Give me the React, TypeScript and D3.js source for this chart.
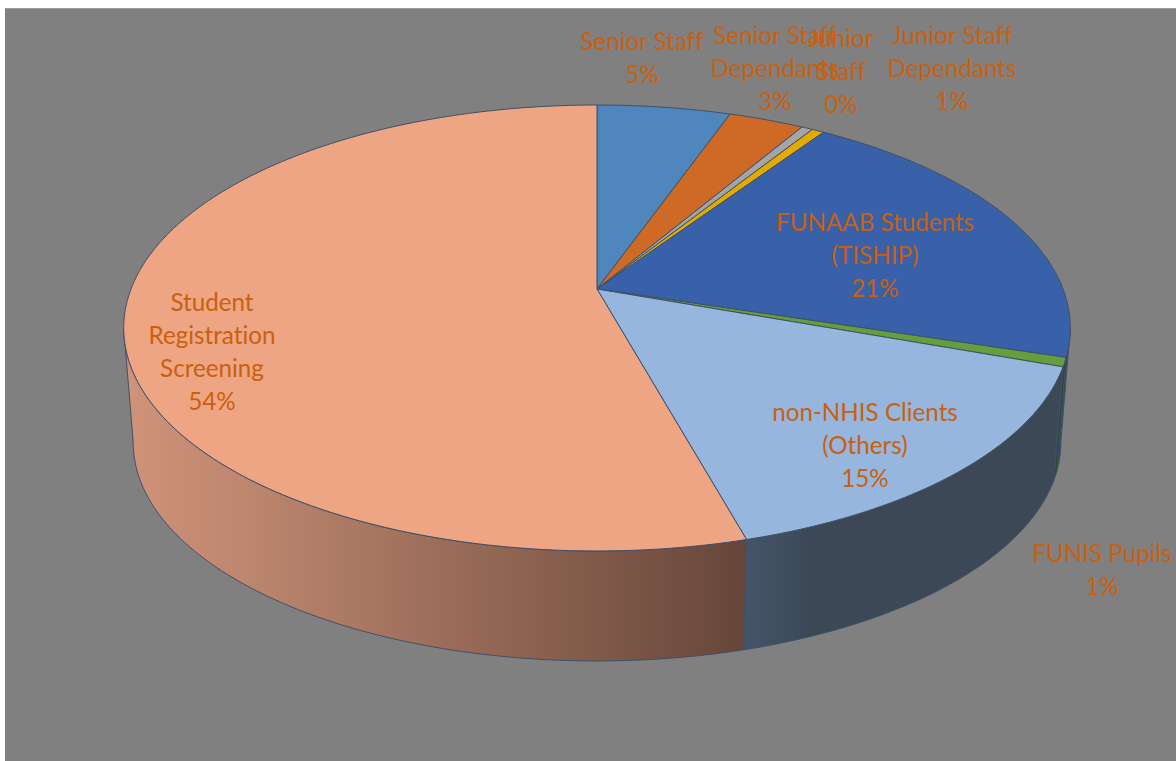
import React from "react";
import * as d3 from "d3";

const categories = [
  "Senior Staff",
  "Senior Staff Dependants",
  "Junior Staff",
  "Junior Staff Dependants",
  "FUNAAB Students (TISHIP)",
  "FUNIS Pupils",
  "non-NHIS Clients (Others)",
  "Student Registration Screening",
];
const shares = [5.4, 3.05, 0.45, 0.5, 20.45, 0.65, 15.2, 54.3];
const percentLabels = ["5%", "3%", "0%", "1%", "21%", "1%", "15%", "54%"];
const labelLines = [
  ["Senior Staff"],
  ["Senior Staff", "Dependants"],
  ["Junior", "Staff"],
  ["Junior Staff", "Dependants"],
  ["FUNAAB Students", "(TISHIP)"],
  ["FUNIS Pupils"],
  ["non-NHIS Clients", "(Others)"],
  ["Student", "Registration", "Screening"],
];
const topColors = ["#4f86bb", "#cf6a26", "#a5a5a5", "#e3ab00", "#3861a9", "#659e3d", "#96b6dd", "#eda583"];
const sideStart = ["#2f4d6c", "#70391a", "#555555", "#705500", "#2b4468", "#2c4a20", "#445568", "#cf9379"];
const sideMid = ["#2f4d6c", "#70391a", "#555555", "#705500", "#2b4468", "#2c4a20", "#3c4856", "#bd866e"];
const sideEnd = ["#2f4d6c", "#70391a", "#555555", "#705500", "#2b4468", "#2c4a20", "#3c4856", "#66463a"];
const labelAnchors: [number, number][] = [
  [642, 43.5], [775, 37.5], [841, 40.5], [952, 37.5], [875, 224.5], [1102, 555.5], [865, 414.5], [212, 304.5],
];

const WIDTH = 1176;
const HEIGHT = 761;
const CX = 597;
const CY = 289;
const K = -0.1749;
const A = 165.6;
const B = 466;
const VANISH_Y = 6051;
const SHRINK = 0.98;
const SIDE_FROM = (100 * Math.PI) / 180;
const SIDE_TO = (260 * Math.PI) / 180;
const LINE_GAP = 33;

type P = [number, number];

const project = (theta: number): P => {
  const u = Math.sin(theta);
  const v = -Math.cos(theta);
  const w = 1 + K * v;
  return [CX + (B * u) / w, (CY + A * v) / w];
};
const drop = ([x, y]: P): P => [CX + SHRINK * (x - CX), VANISH_Y - SHRINK * (VANISH_Y - y)];

const arcPoints = (a0: number, a1: number): P[] => {
  const n = Math.max(2, Math.ceil(((a1 - a0) * 180) / Math.PI));
  return d3.range(n + 1).map((i) => project(a0 + ((a1 - a0) * i) / n));
};

const lineGen = d3.line<P>().x((d) => d[0]).y((d) => d[1]);

const pieGen = d3.pie<number>().sort(null).startAngle(0).endAngle(2 * Math.PI);

export default function App() {
  const slices = pieGen(shares);
  const stroke = "#3f5068";
  return (
    <svg
      width={WIDTH}
      height={HEIGHT}
      viewBox={`0 0 ${WIDTH} ${HEIGHT}`}
      style={{ position: "fixed", left: 0, top: 0, background: "#ffffff", fontVariantLigatures: "none" }}
      fontFamily="Lato, 'Open Sans', sans-serif"
    >
      <defs>
        {slices.map((s, i) => {
          const a0 = Math.max(s.startAngle, SIDE_FROM);
          const a1 = Math.min(s.endAngle, SIDE_TO);
          if (a1 <= a0) return null;
          return (
            <linearGradient
              key={i}
              id={`side-${i}`}
              gradientUnits="userSpaceOnUse"
              x1={project(a1)[0]}
              y1={0}
              x2={project(a0)[0]}
              y2={0}
            >
              <stop offset="0" stopColor={sideStart[i]} />
              <stop offset="0.2" stopColor={sideMid[i]} />
              <stop offset="1" stopColor={sideEnd[i]} />
            </linearGradient>
          );
        })}
      </defs>
      <rect x={5} y={8} width={WIDTH - 5} height={HEIGHT - 8} fill="#808080" />
      <rect x={5} y={8} width={WIDTH - 5} height={1} fill="#9a9a9a" />
      <g>
        {slices.map((s, i) => {
          const a0 = Math.max(s.startAngle, SIDE_FROM);
          const a1 = Math.min(s.endAngle, SIDE_TO);
          if (a1 <= a0) return null;
          const rim = arcPoints(a0, a1);
          const lower = rim.map(drop).reverse();
          return (
            <path
              key={i}
              d={lineGen([...rim, ...lower])! + "Z"}
              fill={`url(#side-${i})`}
              stroke={stroke}
              strokeWidth={1}
              strokeLinejoin="round"
            />
          );
        })}
      </g>
      <g>
        {slices.map((s, i) => (
          <path
            key={categories[i]}
            d={lineGen([[CX, CY], ...arcPoints(s.startAngle, s.endAngle)])! + "Z"}
            fill={topColors[i]}
            stroke={stroke}
            strokeWidth={1}
            strokeLinejoin="round"
          />
        ))}
      </g>
      <g fontSize={24.2} fill="#c9600f" textAnchor="middle" dominantBaseline="middle">
        {labelLines.map((lines, i) => (
          <text key={categories[i]}>
            {[...lines, percentLabels[i]].map((t, j) => (
              <tspan key={j} x={labelAnchors[i][0]} y={labelAnchors[i][1] + j * LINE_GAP}>
                {t}
              </tspan>
            ))}
          </text>
        ))}
      </g>
    </svg>
  );
}
